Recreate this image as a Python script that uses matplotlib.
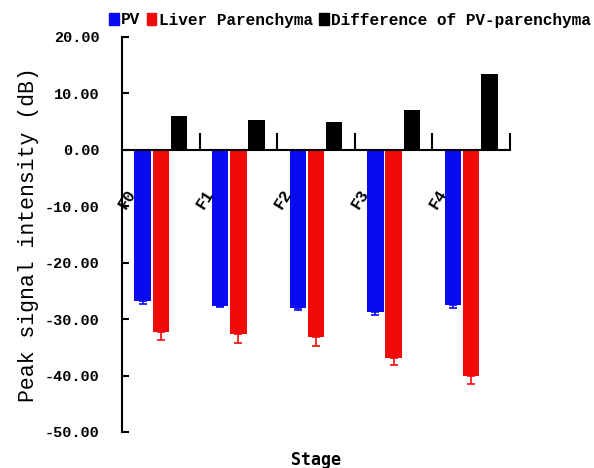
import matplotlib
matplotlib.use("Agg")
import matplotlib.pyplot as plt
from matplotlib.patches import Patch
import numpy as np

stages = ["F0", "F1", "F2", "F3", "F4"]
pv = [-26.8, -27.6, -28.1, -28.8, -27.5]
pv_err = [0.5, 0.3, 0.3, 0.5, 0.5]
liver = [-32.3, -32.6, -33.1, -36.8, -40.1]
liver_err = [1.4, 1.6, 1.7, 1.4, 1.4]
diff = [6.0, 5.3, 4.85, 7.0, 13.4]
series_names = ["PV", "Liver Parenchyma", "Difference of PV-parenchyma"]

BLUE = "#0a0af0"
RED = "#f00a0a"
MONO = "Liberation Mono"

fig = plt.figure(figsize=(5.94, 4.68), dpi=100)
ax = fig.add_axes([122 / 594, 36 / 468, 388 / 594, 395 / 468])

x = np.arange(len(stages)) + 0.5
w = 0.21
ax.bar(x - 0.235, pv, w, color=BLUE, yerr=[pv_err, [0] * 5],
       error_kw=dict(ecolor=BLUE, capsize=3, elinewidth=1.2, capthick=1.2))
ax.bar(x, liver, w, color=RED, yerr=[liver_err, [0] * 5],
       error_kw=dict(ecolor=RED, capsize=3, elinewidth=1.2, capthick=1.2))
ax.bar(x + 0.235, diff, w, color="black")

ax.set_xlim(0, 5)
ax.set_ylim(-50, 20)
for s in ["top", "right"]:
    ax.spines[s].set_visible(False)
ax.spines["bottom"].set_position(("data", 0))
ax.spines["bottom"].set_linewidth(1.5)
ax.spines["left"].set_linewidth(1.5)

ax.set_xticks([1, 2, 3, 4, 5])
ax.set_xticklabels([])
ax.tick_params(axis="x", direction="in", length=12, width=1.5)
ax.set_yticks(np.arange(-50, 21, 10))
ax.set_yticklabels([f"{v:.2f}" for v in np.arange(-50, 21, 10)],
                   fontfamily=MONO, fontweight="bold", fontsize=11)
ax.tick_params(axis="y", direction="in", length=5, width=1.5, pad=16)

for i, s in enumerate(stages):
    ax.text(i + 0.07, -8.7, s, rotation=58, ha="center", va="center",
            fontfamily=MONO, fontweight="bold", fontsize=12)

ax.set_ylabel("Peak signal intensity (dB)", fontfamily=MONO, fontsize=15.5, labelpad=4)
fig.text(316 / 594, 1 - 460 / 468, "Stage", ha="center", va="center",
         fontfamily="DejaVu Sans Mono", fontweight="bold", fontsize=12)

handles = [Patch(color=BLUE), Patch(color=RED), Patch(color="black")]
fig.legend(handles, series_names, loc="center", bbox_to_anchor=(350 / 594, 1 - 20 / 468),
           ncol=3, frameon=False, handlelength=0.6, handleheight=0.7,
           handletextpad=0.15, columnspacing=0.4, borderaxespad=0,
           prop=dict(family=MONO, weight="bold", size=11.6))

fig.savefig("out.png", dpi=100)
